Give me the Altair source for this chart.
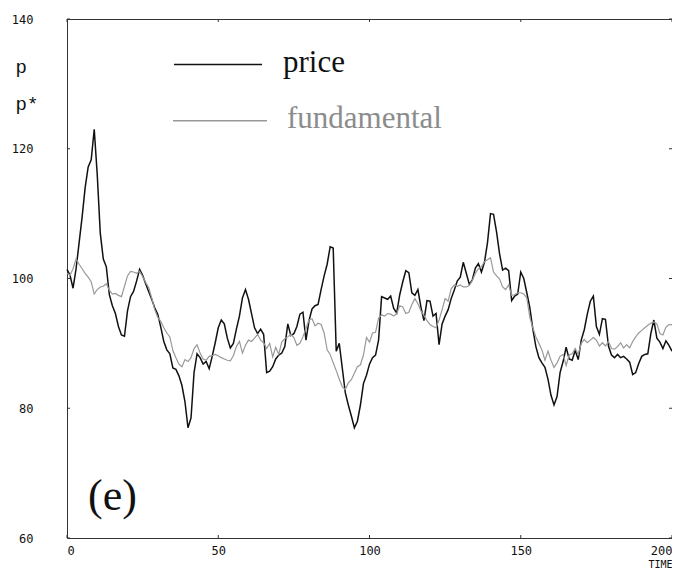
import altair as alt
import pandas as pd

# ---------------- data ----------------
time = list(range(0, 201))

price = [
    101.4, 100.5, 98.5, 101.5, 105.5, 109.5, 114.0, 117.2, 118.3, 123.0,  # 0-9
    116.0, 107.0, 103.0, 101.8, 97.5, 95.8, 94.6, 92.6, 91.3, 91.1,      # 10-19
    95.0, 97.2, 98.0, 99.6, 101.4, 100.5, 99.2, 98.0, 96.8, 95.5,        # 20-29
    94.5, 92.5, 90.3, 89.0, 88.4, 86.2, 86.0, 85.0, 83.5, 81.0,          # 30-39
    77.0, 78.5, 85.5, 88.4, 87.8, 86.8, 87.2, 86.1, 88.0, 90.1,          # 40-49
    92.4, 93.6, 93.0, 90.8, 89.3, 90.0, 92.2, 94.2, 97.0, 98.3,          # 50-59
    96.8, 94.6, 92.4, 91.5, 92.2, 91.4, 85.5, 85.7, 86.4, 87.6,          # 60-69
    88.2, 88.5, 89.5, 93.0, 91.2, 91.5, 92.6, 94.5, 94.8, 90.5,          # 70-79
    93.5, 95.3, 95.8, 96.0, 98.3, 100.4, 102.2, 104.9, 104.7, 88.8,      # 80-89
    90.0, 86.2, 82.4, 80.5, 78.8, 77.0, 78.0, 80.5, 83.8, 85.1,          # 90-99
    86.8, 87.8, 88.2, 90.5, 97.2, 97.0, 96.8, 97.3, 95.4, 94.7,          # 100-109
    97.5, 99.5, 101.2, 100.9, 97.8, 97.4, 98.3, 95.6, 93.5, 96.6,        # 110-119
    96.5, 94.2, 94.6, 89.8, 93.0, 94.2, 95.2, 96.9, 98.2, 99.6,          # 120-129
    100.2, 102.5, 100.8, 99.1, 99.8, 101.6, 102.3, 101.0, 102.5, 105.5,  # 130-139
    110.0, 109.9, 107.2, 103.8, 101.3, 101.6, 101.2, 96.6, 97.3, 97.6,   # 140-149
    101.0, 100.0, 97.8, 95.5, 92.2, 89.5, 87.8, 87.0, 86.3, 84.5,        # 150-159
    82.0, 80.5, 81.8, 85.5, 87.2, 89.4, 87.6, 87.4, 88.9, 87.5,          # 160-169
    90.5, 92.1, 94.5, 96.5, 97.3, 92.6, 91.4, 93.8, 93.7, 89.6,          # 170-179
    88.2, 87.8, 88.3, 87.8, 88.0, 87.6, 87.1, 85.2, 85.5, 86.9,          # 180-189
    88.0, 88.3, 88.4, 91.5, 93.6, 90.8, 90.2, 89.2, 90.4, 89.7,          # 190-199
    88.8,                                                                # 200
]

fundamental = [
    100.8, 100.5, 101.5, 103.0, 102.2, 101.5, 100.8, 100.2, 99.5, 97.6,  # 0-9
    98.3, 98.7, 98.8, 99.2, 98.2, 97.6, 97.7, 97.4, 97.2, 98.8,          # 10-19
    100.4, 101.1, 101.0, 100.8, 101.1, 100.3, 99.4, 98.6, 97.0, 95.2,    # 20-29
    94.0, 93.4, 92.4, 91.6, 91.0, 88.9, 87.8, 86.8, 86.4, 87.5,          # 30-39
    87.2, 87.8, 89.2, 89.8, 88.5, 87.6, 87.4, 88.0, 88.1, 88.3,          # 40-49
    88.1, 87.8, 87.6, 87.4, 87.3, 88.1, 89.5, 90.3, 88.5, 89.7,          # 50-59
    90.5, 90.3, 90.8, 91.4, 90.5, 90.1, 89.2, 90.0, 87.9, 89.4,          # 60-69
    88.3, 90.2, 90.7, 91.0, 91.4, 90.9, 89.7, 90.0, 91.0, 92.3,          # 70-79
    93.6, 93.8, 92.7, 93.1, 92.9, 91.6, 89.0, 88.3, 87.0, 85.8,          # 80-89
    84.5, 83.3, 82.9, 83.9, 84.4, 85.4, 86.4, 86.7, 88.2, 90.9,          # 90-99
    90.2, 91.6, 91.7, 93.9, 94.4, 94.2, 94.6, 94.5, 94.2, 94.6,          # 100-109
    95.8, 95.6, 94.6, 94.8, 96.0, 96.9, 96.1, 95.0, 94.3, 93.5,          # 110-119
    92.9, 92.6, 92.4, 93.6, 95.2, 96.9, 96.5, 98.4, 99.0, 98.8,          # 120-129
    99.0, 98.7, 98.7, 98.9, 99.7, 100.8, 101.5, 101.8, 102.6, 102.9,     # 130-139
    103.2, 101.0, 100.4, 99.9, 98.7, 98.3, 99.0, 97.4, 97.5, 97.8,       # 140-149
    97.8, 97.6, 97.0, 94.0, 92.4, 91.0, 90.0, 89.0, 87.4, 88.8,          # 150-159
    87.4, 86.3, 87.0, 88.0, 88.3, 86.6, 88.2, 88.4, 89.2, 88.3,          # 160-169
    90.0, 90.6, 90.1, 90.5, 90.9, 90.5, 89.6, 90.1, 89.6, 90.3,          # 170-179
    89.2, 89.1, 89.5, 90.1, 89.3, 89.8, 89.3, 90.3, 91.0, 91.6,          # 180-189
    92.0, 92.4, 92.8, 93.1, 93.3, 93.0, 91.5, 91.3, 92.5, 92.9,          # 190-199
    92.9,                                                                # 200
]

series_names = ["price", "fundamental"]
x_ticks = [0, 50, 100, 150, 200]
y_ticks = [60, 80, 100, 120, 140]
x_title = "TIME"
y_title = ["p", "p*"]
panel_label = "(e)"

# ---------------- chart ----------------
W, H = 605, 519
BLACK = "#111111"
GRAY = "#999999"
GRAY_TEXT = "#8c8c8c"

df = pd.DataFrame({
    "t": time + time,
    "value": price + fundamental,
    "series": [series_names[0]] * len(time) + [series_names[1]] * len(time),
})

xs = alt.Scale(domain=[x_ticks[0], x_ticks[-1]], nice=False, zero=False)
ys = alt.Scale(domain=[y_ticks[0], y_ticks[-1]], nice=False, zero=False)

x_axis = alt.Axis(
    values=x_ticks, format="d", grid=False, domain=False, ticks=False,
    labelFont="DejaVu Sans Mono", labelFontSize=12, labelColor="#111111",
    labelPadding=7, labelFlush=True,
    title=x_title, titleFont="DejaVu Sans Mono", titleFontSize=10,
    titleFontWeight="normal", titleColor="#111111",
    titleX=W, titleY=26, titleAlign="right", titleBaseline="middle",
)
y_axis = alt.Axis(
    values=y_ticks, format="d", grid=False, domain=False, ticks=False,
    labelFont="DejaVu Sans Mono", labelFontSize=12, labelColor="#111111",
    labelPadding=34,
    title=y_title, titleFont="Liberation Mono", titleFontSize=19,
    titleFontWeight="normal", titleColor="#111111", titleAngle=0,
    titleAlign="left", titleBaseline="alphabetic", titleX=-52, titleY=53,
    titleLineHeight=37.5,
)

lines = alt.Chart(df).mark_line(interpolate="linear").encode(
    x=alt.X("t:Q", scale=xs, axis=x_axis),
    y=alt.Y("value:Q", scale=ys, axis=y_axis),
    color=alt.Color("series:N",
                    scale=alt.Scale(domain=series_names, range=[BLACK, GRAY]),
                    legend=None),
    strokeWidth=alt.StrokeWidth("series:N",
                                scale=alt.Scale(domain=series_names, range=[1.5, 1.2]),
                                legend=None),
)

xt = pd.DataFrame({"t": x_ticks})
yt = pd.DataFrame({"value": y_ticks})
tick_color = "#333333"
ticks_bottom = alt.Chart(xt).mark_rule(color=tick_color).encode(
    x="t:Q", y=alt.value(H), y2=alt.value(H - 3))
ticks_top = alt.Chart(xt).mark_rule(color=tick_color).encode(
    x="t:Q", y=alt.value(0), y2=alt.value(3))
ticks_left = alt.Chart(yt).mark_rule(color=tick_color).encode(
    y="value:Q", x=alt.value(0), x2=alt.value(3))
ticks_right = alt.Chart(yt).mark_rule(color=tick_color).encode(
    y="value:Q", x=alt.value(W), x2=alt.value(W - 3))

# legend drawn inside the plot
leg_p = pd.DataFrame({"series": [series_names[0]]})
leg_f = pd.DataFrame({"series": [series_names[1]]})
leg_line_p = alt.Chart(leg_p).mark_rule(color=BLACK, strokeWidth=1.5).encode(
    x=alt.value(107), x2=alt.value(195), y=alt.value(45.5))
leg_line_f = alt.Chart(leg_f).mark_rule(color=GRAY, strokeWidth=1.5).encode(
    x=alt.value(106), x2=alt.value(200), y=alt.value(101.7))
leg_text_p = alt.Chart(leg_p).mark_text(
    font="Liberation Serif", fontSize=31, align="left", baseline="alphabetic",
    color=BLACK).encode(text="series:N", x=alt.value(216), y=alt.value(53))
leg_text_f = alt.Chart(leg_f).mark_text(
    font="Liberation Serif", fontSize=31, align="left", baseline="alphabetic",
    color=GRAY_TEXT).encode(text="series:N", x=alt.value(220), y=alt.value(109))

panel = alt.Chart(pd.DataFrame({"label": [panel_label]})).mark_text(
    font="Liberation Serif", fontSize=44, align="left", baseline="alphabetic",
    color=BLACK).encode(text="label:N", x=alt.value(21), y=alt.value(491))

chart = alt.layer(
    lines, ticks_bottom, ticks_top, ticks_left, ticks_right,
    leg_line_p, leg_line_f, leg_text_p, leg_text_f, panel,
).properties(
    width=W, height=H,
    autosize=alt.AutoSizeParams(type="none"),
    padding={"left": 59, "top": 11, "right": 0, "bottom": 31},
    background="white",
).configure_view(
    stroke="#333333", strokeWidth=1,
)

chart.save("out.html", embed_options={"renderer": "svg", "actions": False})
